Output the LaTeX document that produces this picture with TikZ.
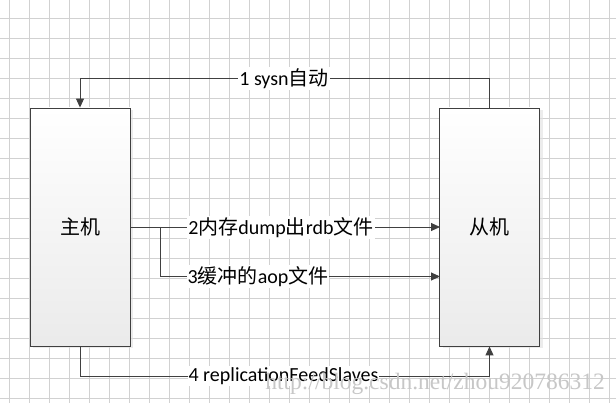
\documentclass[tikz,border=0pt]{standalone}
\usepackage{fontspec}
\setmainfont{Carlito}
\newfontfamily\cjk{Noto Sans CJK SC}
\newfontfamily\markfont{Liberation Serif}
\newcommand{\zh}[1]{{\cjk #1}}
\usepackage{tikz}
\usetikzlibrary{positioning}
\usetikzlibrary{arrows.meta}
\usetikzlibrary{shadows}

\tikzset{
  host/.style={draw=black!75,line width=0.9pt,minimum width=100pt,minimum height=238pt,
    top color=white,bottom color=black!8,font=\fontsize{20}{24}\selectfont\cjk,
    drop shadow={shadow xshift=3pt,shadow yshift=-2pt,fill=black!12,opacity=0.6}},
  link/.style={draw=black!75,line width=0.9pt,-{Triangle[length=9pt,width=8pt]}},
  lbl/.style={fill=white,inner sep=1pt,font=\fontsize{20}{24}\selectfont},
  gridline/.style={draw=black!18,line width=0.6pt}
}

\begin{document}
\begin{tikzpicture}[x=1pt,y=-1pt]
\useasboundingbox (0,0) rectangle (616,403);
\fill[white] (0,0) rectangle (616,403);

% grid
\foreach \x in {9.5,29.5,...,609.5}
  \draw[gridline] (\x,0) -- (\x,403);
\foreach \y in {18.5,38.5,...,398.5}
  \draw[gridline] (0,\y) -- (616,\y);

\node[host] (master) at (80,227) {主机};
\node[host] (slave) at (489.5,227) {从机};

\coordinate (T1) at (80,78.5);
\coordinate (S2) at (440,227);
\coordinate (B3) at (160,227);
\coordinate (S3) at (440,276.5);
\coordinate (B4) at (489.5,376);

\draw[link] (slave.north) |- (T1) -- (master.north);
\draw[link] (master.east) -- (S2);
\draw[link] (B3) |- (S3);
\draw[link] (master.south) |- (B4) -- (slave.south);

\node[lbl] (l1) at (284,78.5) {1 sysn\zh{自动}};
\node[lbl] (l2) at (281,227.5) {2\zh{内存}dump\zh{出}rdb\zh{文件}};
\node[lbl] (l3) at (258,276.5) {3\zh{缓冲的}aop\zh{文件}};
\node[lbl] (l4) at (283.5,376) {4 replicationFeedSlaves};

% watermark
\node[anchor=east,text=black!22,font=\fontsize{23.5}{26}\selectfont\markfont,inner sep=0pt] (mark) at (605,384) {http://blog.csdn.net/zhou920786312};
\end{tikzpicture}
\end{document}
